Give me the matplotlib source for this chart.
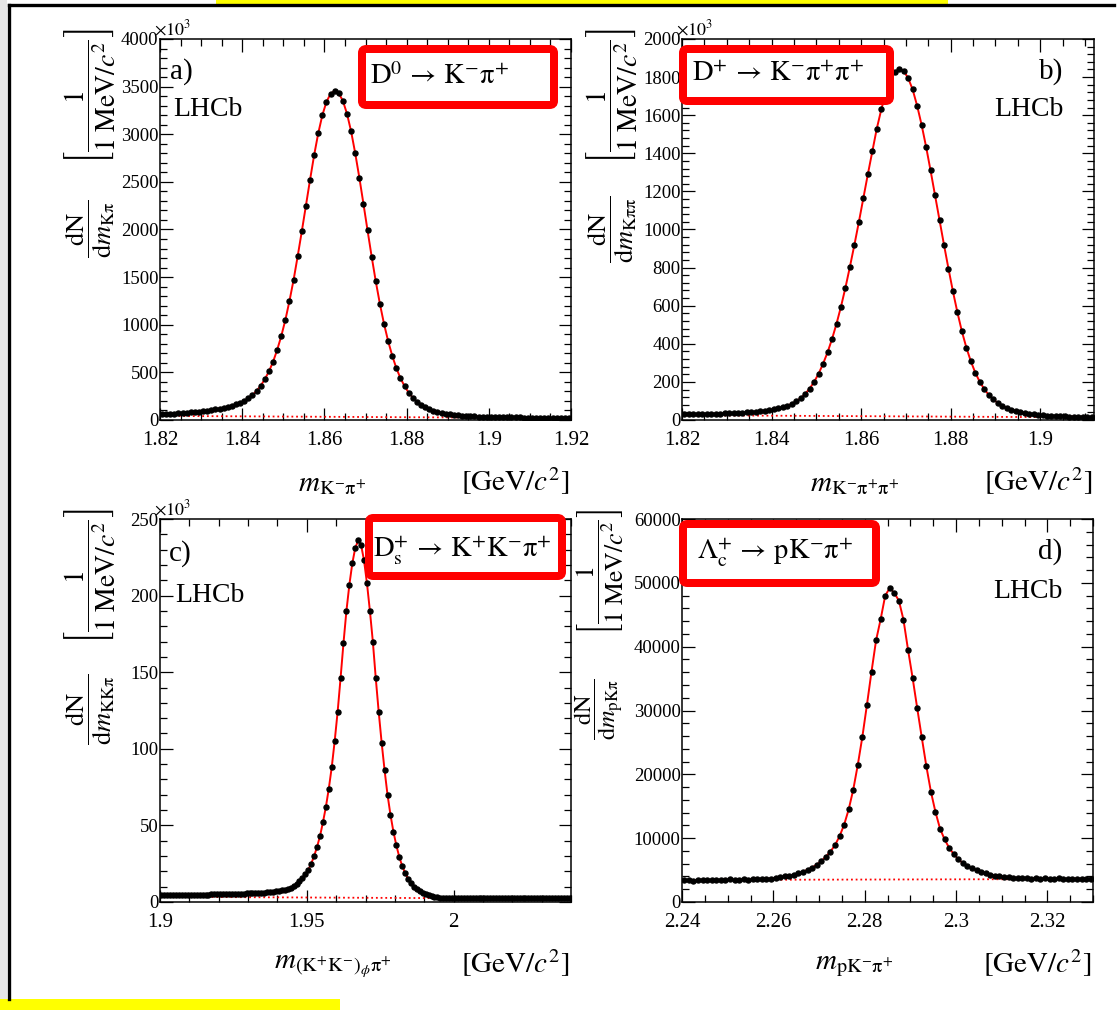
import numpy as np
import matplotlib.pyplot as plt
from matplotlib.patches import FancyBboxPatch, Rectangle
from matplotlib.lines import Line2D
from matplotlib.ticker import MultipleLocator, FuncFormatter

plt.rcParams['font.family'] = ['Liberation Serif', 'DejaVu Serif']
plt.rcParams['mathtext.fontset'] = 'stix'

W, H = 1118, 1010

# ---- data (x10^3 candidates per 1 MeV bin) ----
# a) D0 -> K- pi+ , first bin centre 1.8205
a_start = 1.8205
a_counts = [62, 64, 66, 68, 70, 73, 76, 80, 84, 88,
            93, 99, 105, 112, 120, 128, 138, 150, 163, 180,
            200, 228, 262, 305, 360, 428, 510, 610, 735, 880,
            1050, 1250, 1470, 1720, 1980, 2250, 2520, 2780, 3010, 3200,
            3340, 3425, 3455, 3430, 3350, 3215, 3030, 2800, 2545, 2270,
            1990, 1715, 1455, 1220, 1010, 830, 675, 545, 440, 355,
            288, 235, 192, 158, 132, 112, 96, 84, 74, 66,
            59, 53, 48, 45, 42, 40, 38, 36, 35, 34,
            33, 32, 31, 30, 29, 28, 28, 27, 26, 26,
            25, 25, 24, 24, 23, 23, 22, 22, 21, 21]
a_bkg_x = [1.82, 1.92]
a_bkg_y = [43, 20]

# b) D+ -> K- pi+ pi+ , first bin centre 1.8205
b_start = 1.8205
b_counts = [30, 30, 31, 31, 32, 32, 33, 33, 34, 35,
            36, 37, 38, 39, 40, 42, 44, 46, 49, 52,
            56, 61, 67, 75, 85, 98, 115, 137, 165, 200,
            243, 295, 355, 425, 505, 595, 695, 805, 920, 1040,
            1165, 1290, 1410, 1530, 1630, 1715, 1780, 1825, 1842, 1832,
            1795, 1735, 1650, 1550, 1435, 1310, 1180, 1050, 920, 795,
            675, 565, 465, 380, 308, 248, 200, 162, 132, 108,
            90, 76, 64, 55, 48, 42, 37, 33, 30, 27,
            25, 23, 22, 21, 20, 19, 18, 18, 17, 17,
            16, 16]
b_bkg_x = [1.82, 1.91]
b_bkg_y = [25, 14]

# c) Ds+ -> K+ K- pi+ , first bin centre 1.9005
c_start = 1.9005
c_counts = [4.4, 4.4, 4.4, 4.5, 4.5, 4.5, 4.5, 4.6, 4.6, 4.6,
            4.6, 4.7, 4.7, 4.7, 4.8, 4.8, 4.8, 4.9, 4.9, 5.0,
            5.0, 5.0, 5.1, 5.1, 5.2, 5.3, 5.3, 5.4, 5.5, 5.6,
            5.7, 5.8, 5.9, 6.0, 6.1, 6.2, 6.3, 6.4, 6.6, 6.9,
            7.2, 7.6, 8.1, 8.7, 9.4, 10.3, 11.7, 13.5, 15.5, 18,
            21, 25, 30, 36, 43, 52, 62, 74, 88, 105,
            124, 146, 169, 190, 207, 221, 231, 236, 233, 223,
            208, 190, 170, 146, 124, 104, 86, 70, 57, 46,
            37, 29.5, 23.5, 19, 15.3, 12.4, 10.1, 8.3, 6.9, 5.8,
            5.0, 4.3, 3.8, 3.4, 3.1, 2.9, 2.8, 2.75, 2.7, 2.7,
            2.7, 2.7, 2.6, 2.6, 2.6, 2.6, 2.6, 2.6, 2.6, 2.5,
            2.5, 2.5, 2.5, 2.5, 2.5, 2.5, 2.5, 2.5, 2.4, 2.4,
            2.4, 2.4, 2.4, 2.4, 2.4, 2.4, 2.4, 2.4, 2.4, 2.3,
            2.3, 2.3, 2.3, 2.3, 2.3, 2.3, 2.3, 2.3, 2.3, 2.3]
c_bkg_x = [1.90, 2.04]
c_bkg_y = [3.4, 2.1]

# d) Lambda_c+ -> p K- pi+ , first bin centre 2.2405 (candidates per bin)
d_start = 2.2405
d_counts = [3380, 3450, 3360, 3420, 3480, 3400, 3440, 3500, 3430, 3470,
            3530, 3480, 3520, 3560, 3500, 3580, 3540, 3620, 3600, 3680,
            3800, 3900, 4000, 4150, 4300, 4500, 4750, 5050, 5400, 5850,
            6400, 7100, 7900, 8900, 10300, 12100, 14500, 17600, 21500, 25900,
            30900, 36100, 41000, 44300, 48000, 49200, 48400, 47200, 44200, 39500,
            35100, 30400, 25800, 21300, 17300, 14100, 11500, 9800, 8500, 7500,
            6700, 6100, 5600, 5250, 4950, 4700, 4500, 4300, 4150, 4050,
            3950, 3880, 3820, 3760, 3800, 3720, 3680, 3740, 3660, 3700,
            3610, 3660, 3720, 3640, 3600, 3680, 3620, 3650, 3580, 3640]
d_bkg_x = [2.24, 2.33]
d_bkg_y = [3450, 3600]

decays = [r'$\mathrm{D}^{0}\,\rightarrow\,\mathrm{K}^{-}\mathrm{\pi}^{+}$',
          r'$\mathrm{D}^{+}\,\rightarrow\,\mathrm{K}^{-}\mathrm{\pi}^{+}\mathrm{\pi}^{+}$',
          r'$\mathrm{D}_{\mathrm{s}}^{+}\,\rightarrow\,\mathrm{K}^{+}\mathrm{K}^{-}\mathrm{\pi}^{+}$',
          r'$\Lambda_{\mathrm{c}}^{+}\,\rightarrow\,\mathrm{pK}^{-}\mathrm{\pi}^{+}$']
xlabels = [r'$m_{\mathrm{K^{-}\pi^{+}}}$',
           r'$m_{\mathrm{K^{-}\pi^{+}\pi^{+}}}$',
           r'$m_{(\mathrm{K^{+}K^{-}})_{\phi}\mathrm{\pi^{+}}}$',
           r'$m_{\mathrm{pK^{-}\pi^{+}}}$']
ysubs = [r'\mathrm{K\pi}', r'\mathrm{K\pi\pi}', r'\mathrm{KK\pi}', r'\mathrm{pK\pi}']


def px_axes(fig, x0, y0, x1, y1):
    return fig.add_axes([x0 / W, 1 - y1 / H, (x1 - x0) / W, (y1 - y0) / H])


def draw_panel(ax, start, counts, bkg_x, bkg_y, xlim, ylim, xstep, ystep, i,
               x10=True, ylab_x=-0.17, ylab_fs=20):
    x = start + 0.001 * np.arange(len(counts))
    ax.plot(bkg_x, bkg_y, color='red', lw=1.3, ls=(0, (1, 1.6)), zorder=2)
    ax.plot(x, counts, color='red', lw=1.4, zorder=3)
    ax.plot(x, counts, 'o', color='black', ms=3.6, zorder=4)
    ax.set_xlim(*xlim)
    ax.set_ylim(*ylim)
    ax.xaxis.set_major_locator(MultipleLocator(xstep[0]))
    ax.xaxis.set_minor_locator(MultipleLocator(xstep[1]))
    ax.yaxis.set_major_locator(MultipleLocator(ystep[0]))
    ax.yaxis.set_minor_locator(MultipleLocator(ystep[1]))
    ax.xaxis.set_major_formatter(FuncFormatter(lambda v, p: f'{v:g}'))
    ax.yaxis.set_major_formatter(FuncFormatter(lambda v, p: f'{v:g}'))
    ax.tick_params(which='both', direction='in', top=True, right=True, width=0.9)
    ax.tick_params(which='major', length=9)
    ax.tick_params(which='minor', length=5)
    ax.tick_params(axis='x', labelsize=15, pad=8)
    ax.tick_params(axis='y', labelsize=13.5, pad=1)
    for s in ax.spines.values():
        s.set_linewidth(1.1)

    # rotated y title in two pieces: bracket on top, dN/dm below
    h = ax.get_position().height * H
    ax.text(ylab_x, 1 + 10 / h,
            r'$\left[\dfrac{1}{1\ \mathrm{MeV}/c^{2}}\right]$',
            transform=ax.transAxes, rotation=90, ha='center', va='top', fontsize=ylab_fs)
    ax.text(ylab_x, 1 - 190 / h,
            r'$\dfrac{\mathrm{dN}}{\mathrm{d}m_{%s}}$' % ysubs[i],
            transform=ax.transAxes, rotation=90, ha='center', va='center', fontsize=ylab_fs - 1)
    ax.text(0.42, -0.168, xlabels[i], transform=ax.transAxes,
            ha='center', va='center', fontsize=21)
    ax.text(0.995, -0.16, r'$[\mathrm{GeV}/c^{2}]$', transform=ax.transAxes,
            ha='right', va='center', fontsize=21)
    if x10:
        ax.text(-0.015, 1.0, r'$\times10^{3}$', transform=ax.transAxes,
                ha='left', va='bottom', fontsize=13)


fig = plt.figure(figsize=(W / 100, H / 100), dpi=100)

ax_a = px_axes(fig, 160, 39, 571, 420)
draw_panel(ax_a, a_start, a_counts, a_bkg_x, a_bkg_y, (1.82, 1.92), (0, 4000),
           (0.02, 0.005), (500, 100), 0)
ax_a.text(0.024, 0.915, 'a)', transform=ax_a.transAxes, fontsize=21, va='center', ha='left')
ax_a.text(0.032, 0.815, 'LHCb', transform=ax_a.transAxes, fontsize=20, va='center', ha='left')

ax_b = px_axes(fig, 682, 39, 1094, 420)
draw_panel(ax_b, b_start, b_counts, b_bkg_x, b_bkg_y, (1.82, 1.912), (0, 2000),
           (0.02, 0.005), (200, 40), 1)
ax_b.text(0.925, 0.915, 'b)', transform=ax_b.transAxes, fontsize=21, va='center', ha='right')
ax_b.text(0.925, 0.815, 'LHCb', transform=ax_b.transAxes, fontsize=20, va='center', ha='right')

ax_c = px_axes(fig, 160, 519, 571, 902)
draw_panel(ax_c, c_start, c_counts, c_bkg_x, c_bkg_y, (1.9, 2.04), (0, 250),
           (0.05, 0.01), (50, 10), 2)
ax_c.text(0.022, 0.91, 'c)', transform=ax_c.transAxes, fontsize=21, va='center', ha='left')
ax_c.text(0.037, 0.80, 'LHCb', transform=ax_c.transAxes, fontsize=20, va='center', ha='left')

ax_d = px_axes(fig, 682, 519, 1093, 902)
draw_panel(ax_d, d_start, d_counts, d_bkg_x, d_bkg_y, (2.24, 2.33), (0, 60000),
           (0.02, 0.005), (10000, 2000), 3, x10=False, ylab_x=-0.2, ylab_fs=18.5)
ax_d.text(0.925, 0.915, 'd)', transform=ax_d.transAxes, fontsize=21, va='center', ha='right')
ax_d.text(0.925, 0.81, 'LHCb', transform=ax_d.transAxes, fontsize=20, va='center', ha='right')

# red highlight boxes with the decay modes (pixel coords of outer edges)
boxes = [(358, 45, 558, 109), (679, 45, 894, 105), (365, 514, 566, 580), (679, 520, 880, 587)]
text_pos = [(370, 77), (692, 74), (373, 551), (697, 553)]
t = 8
for (x0, y0, x1, y1), (tx, ty), lab in zip(boxes, text_pos, decays):
    patch = FancyBboxPatch(((x0 + t / 2) / W, 1 - (y1 - t / 2) / H),
                           (x1 - x0 - t) / W, (y1 - y0 - t) / H,
                           boxstyle='round,pad=0,rounding_size=0.004',
                           transform=fig.transFigure, facecolor='white',
                           edgecolor='#ff0000', lw=t * 0.72, zorder=10)
    fig.add_artist(patch)
    fig.text(tx / W, 1 - ty / H, lab, fontsize=20.5, ha='left', va='center', zorder=11)

# slide decorations: frame and yellow highlights
fig.add_artist(Rectangle((0, 0), 7 / W, 1, transform=fig.transFigure,
                         facecolor='#e6e6e6', edgecolor='none', zorder=0))
fig.add_artist(Rectangle((216 / W, 1 - 4 / H), (948 - 216) / W, 4 / H,
                         transform=fig.transFigure, facecolor='#ffff00', edgecolor='none', zorder=12))
fig.add_artist(Rectangle((0, 0), 340 / W, 11 / H, transform=fig.transFigure,
                         facecolor='#ffff00', edgecolor='none', zorder=12))
fig.add_artist(Line2D([8.5 / W, 8.5 / W], [1 - 4.5 / H, 11 / H], transform=fig.transFigure,
                      color='black', lw=2.4, zorder=13))
fig.add_artist(Line2D([8.5 / W, 1114 / W], [1 - 4.5 / H, 1 - 4.5 / H], transform=fig.transFigure,
                      color='black', lw=2.4, zorder=13))

fig.savefig('out.png', dpi=100)
